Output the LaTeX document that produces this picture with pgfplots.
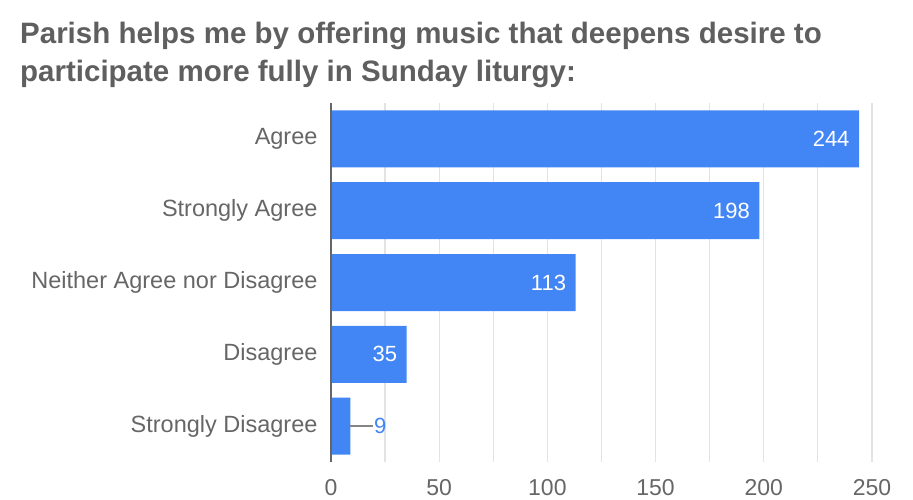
\documentclass[border=0pt]{standalone}
\usepackage{fontspec}
\setmainfont{Liberation Sans}
\usepackage{pgfplots}
\pgfplotsset{compat=1.18}

\definecolor{barblue}{HTML}{4285F4}
\definecolor{titlegray}{HTML}{5F5F5F}
\definecolor{labgray}{HTML}{666666}
\definecolor{gridgray}{HTML}{E3E3E3}

\begin{document}
\begin{tikzpicture}[x=1pt,y=1pt]
\path[use as bounding box] (-331,-37) rectangle (582,462);

\node[anchor=base west, text=titlegray, font=\fontsize{29.5}{34}\selectfont\bfseries, inner sep=0pt]
  at (-311,418) {Parish helps me by offering music that deepens desire to};
\node[anchor=base west, text=titlegray, font=\fontsize{29.5}{34}\selectfont\bfseries, inner sep=0pt]
  at (-311,380) {participate more fully in Sunday liturgy:};

\begin{axis}[
  at={(0,0)}, anchor=south west,
  scale only axis,
  width=541pt, height=359pt,
  xmin=0, xmax=250,
  ymin=-0.5, ymax=4.5,
  xtick={0,50,...,250},
  minor xtick={25,75,...,225},
  ytick={0,1,2,3,4},
  yticklabels={Strongly Disagree,Disagree,Neither Agree nor Disagree,Strongly Agree,Agree},
  xmajorgrids, xminorgrids,
  grid style={gridgray, line width=1.2pt},
  minor grid style={gridgray, line width=1.2pt},
  major tick length=0pt, minor tick length=0pt,
  axis line style={draw=none},
  axis x line*=bottom, axis y line*=left,
  /pgf/number format/assume math mode=true,
  yticklabel style={text=labgray, font=\fontsize{23.5}{26}\selectfont, xshift=-10pt},
  xticklabel style={text=labgray, font=\fontsize{23}{25}\selectfont, anchor=base, yshift=-33pt},
  clip=false,
]
\addplot[xbar, bar width=57pt, fill=barblue, draw=none] coordinates {
  (9,0) (35,1) (113,2) (198,3) (244,4)
};
\addplot[draw=none, mark=none, nodes near coords,
  point meta=explicit symbolic,
  nodes near coords style={anchor=east, text=white, xshift=-6pt,
    font=\fontsize{22}{24}\selectfont}] coordinates {
  (35,1) [35] (113,2) [113] (198,3) [198] (244,4) [244]
};
\draw[labgray!80, line width=1.3pt] (axis cs:9,0) -- (axis cs:19.6,0);
\addplot[draw=none, mark=none, nodes near coords,
  point meta=explicit symbolic,
  nodes near coords style={anchor=west, text=barblue, inner sep=0pt, xshift=0pt,
    font=\fontsize{22}{24}\selectfont}] coordinates {
  (19.8,0) [9]
};
\draw[labgray, line width=1.5pt] (axis cs:0,-0.5) -- (axis cs:0,4.5);
\end{axis}
\end{tikzpicture}
\end{document}
